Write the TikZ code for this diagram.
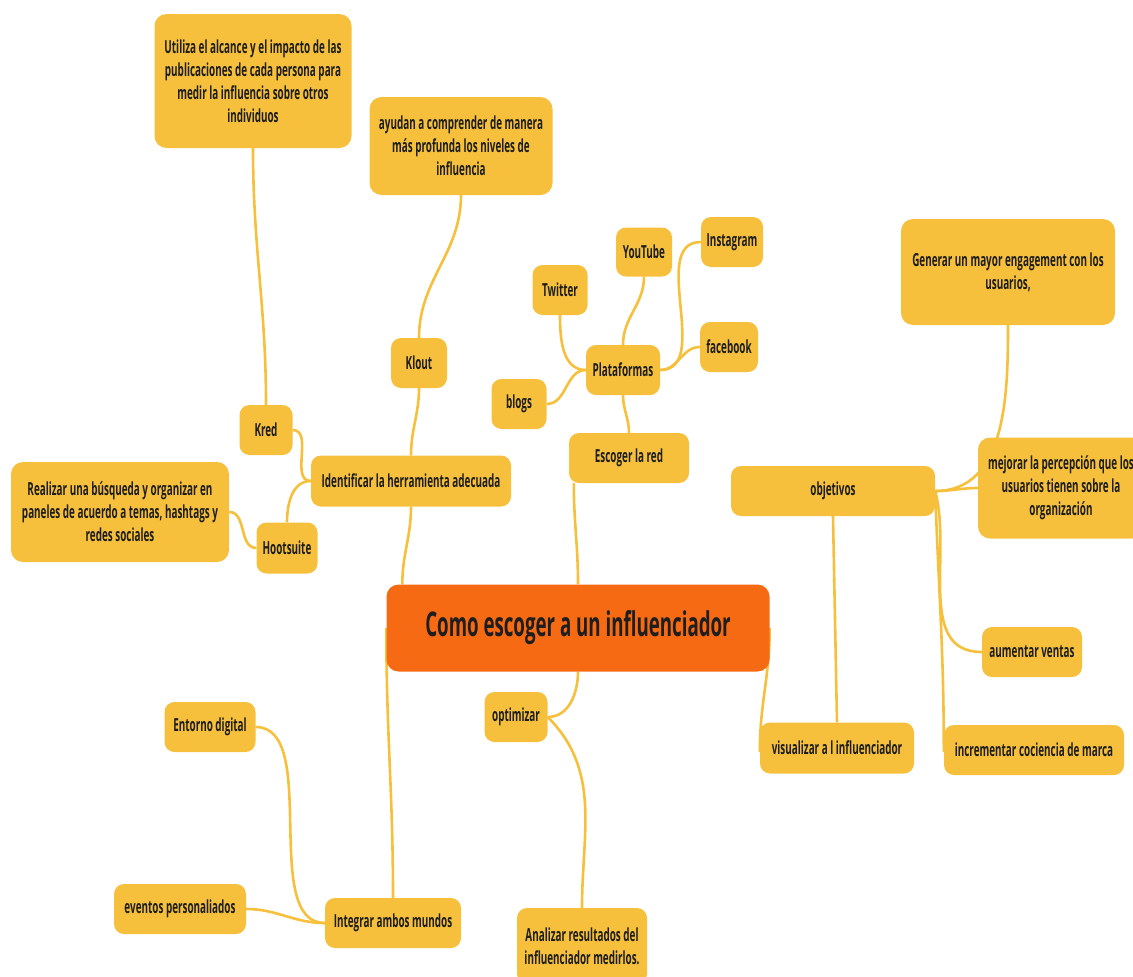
\documentclass[tikz,border=0pt]{standalone}
\usepackage{fontspec}
\setmainfont{Open Sans}[FakeStretch=0.55]
\usetikzlibrary{positioning,backgrounds}
\definecolor{mapyellow}{HTML}{F6C03C}
\definecolor{maporange}{HTML}{F76A14}
\definecolor{mapink}{HTML}{1E1E1E}

\begin{document}
\begin{tikzpicture}[
    x=1pt, y=-1pt,
    topic/.style={fill=mapyellow, rounded corners=10pt, font=\bfseries\fontsize{18}{23}\selectfont, text=mapink, align=center, inner sep=0pt},
    main/.style={fill=maporange, rounded corners=12pt, font=\bfseries\fontsize{34}{40}\selectfont, text=mapink, inner sep=0pt},
    wh/.style 2 args={minimum width=#1pt, minimum height=#2pt},
    link/.style={draw=mapyellow, line width=2.6pt}
]
    \useasboundingbox (0,0) rectangle (1133,977);

    % centre
    \node[main, wh={383}{87}] (central) at (578,628) {Como escoger a un influenciador};

    % herramientas
    \node[topic, wh={197}{134}, rounded corners=12pt] (util) at (253,81) {Utiliza el alcance y el impacto de las\\publicaciones de cada persona para\\medir la influencia sobre otros\\individuos};
    \node[topic, wh={183}{98}, rounded corners=12pt] (ayudan) at (461,146) {ayudan a comprender de manera\\más profunda los niveles de\\influencia};
    \node[topic, wh={56}{50}] (klout) at (419,363) {Klout};
    \node[topic, wh={53}{50}] (kred) at (266,430) {Kred};
    \node[topic, wh={200}{51}] (ident) at (411,481) {Identificar la herramienta adecuada};
    \node[topic, wh={218}{100}, rounded corners=12pt] (realizar) at (120,512) {Realizar una búsqueda y organizar en\\paneles de acuerdo a temas, hashtags y\\redes sociales};
    \node[topic, wh={61}{51}] (hoot) at (287,548) {Hootsuite};

    % redes
    \node[topic, wh={56}{49}] (youtube) at (644,252) {YouTube};
    \node[topic, wh={62}{50}] (insta) at (732,242) {Instagram};
    \node[topic, wh={55}{50}] (twitter) at (560,290) {Twitter};
    \node[topic, wh={58}{50}] (facebook) at (729,347) {facebook};
    \node[topic, wh={74}{50}] (plat) at (623,370) {Plataformas};
    \node[topic, wh={55}{50}] (blogs) at (519,404) {blogs};
    \node[topic, wh={120}{50}] (escoger) at (629,458) {Escoger la red};

    % objetivos
    \node[topic, wh={214}{106}, rounded corners=12pt] (generar) at (1008,272) {Generar un mayor engagement con los\\usuarios,};
    \node[topic, wh={204}{50}] (obj) at (833,491) {objetivos};
    \node[topic, wh={166}{101}, rounded corners=12pt] (mejorar) at (1061,488) {mejorar la percepción que los\\usuarios tienen sobre la\\organización};
    \node[topic, wh={100}{50}] (aumentar) at (1032,652) {aumentar ventas};
    \node[topic, wh={154}{51}] (visual) at (837,748) {visualizar a l influenciador};
    \node[topic, wh={180}{50}] (increm) at (1034,750) {incrementar cociencia de marca};

    % abajo
    \node[topic, wh={63}{50}] (optim) at (516,717) {optimizar};
    \node[topic, wh={130}{76}] (analizar) at (582,946) {Analizar resultados del\\influenciador medirlos.};
    \node[topic, wh={91}{50}] (entorno) at (210,727) {Entorno digital};
    \node[topic, wh={132}{50}] (eventos) at (180,909) {eventos personaliados};
    \node[topic, wh={136}{50}] (integrar) at (393,923) {Integrar ambos mundos};

    \begin{scope}[on background layer]
    \draw[link] (util.south) to[out=-90,in=90] (kred.north);
    \draw[link] (ayudan.south) to[out=-90,in=90] (klout.north);
    \draw[link] (klout.south) to[out=-90,in=90] (ident.north);
    \draw[link] (kred.east) to[out=0,in=180] (ident.west);
    \draw[link] (hoot.north) to[out=90,in=180] (ident.west);
    \draw[link] (realizar.east) to[out=0,in=180] (hoot.west);
    \draw[link] (ident.south) to[out=-90,in=90] ([xshift=16pt]central.north west);

    \draw[link] ([xshift=5pt]escoger.south west) to[out=-90,in=90] (central.north);
    \draw[link] (plat.south) to[out=-90,in=90] (escoger.north);
    \draw[link] (twitter.south) to[out=-90,in=180] (plat.west);
    \draw[link] (blogs.east) to[out=0,in=180] (plat.west);
    \draw[link] (youtube.south) to[out=-90,in=90] (plat.north);
    \draw[link] (insta.west) to[out=180,in=0] (plat.east);
    \draw[link] (facebook.west) to[out=180,in=0] (plat.east);

    \draw[link] (central.east) to[out=-90,in=90] ([yshift=-4pt]visual.west);
    \draw[link] (visual.north) -- (obj.south);
    \draw[link] (obj.east) to[out=0,in=-90] (generar.south);
    \draw[link] (obj.east) to[out=0,in=180] (mejorar.west);
    \draw[link] (obj.east) to[out=-75,in=180] (aumentar.west);
    \draw[link] (obj.east) to[out=-88,in=90] ([yshift=-2pt]increm.west);

    \draw[link] (central.south) to[out=-90,in=0] (optim.east);
    \draw[link] (optim.east) to[out=-45,in=90] (analizar.north);
    \draw[link] (central.west) to[out=-90,in=90] (integrar.north);
    \draw[link] (integrar.west) to[out=180,in=0, looseness=0.8] (entorno.east);
    \draw[link] (integrar.west) to[out=180,in=0] (eventos.east);
    \end{scope}
\end{tikzpicture}
\end{document}
